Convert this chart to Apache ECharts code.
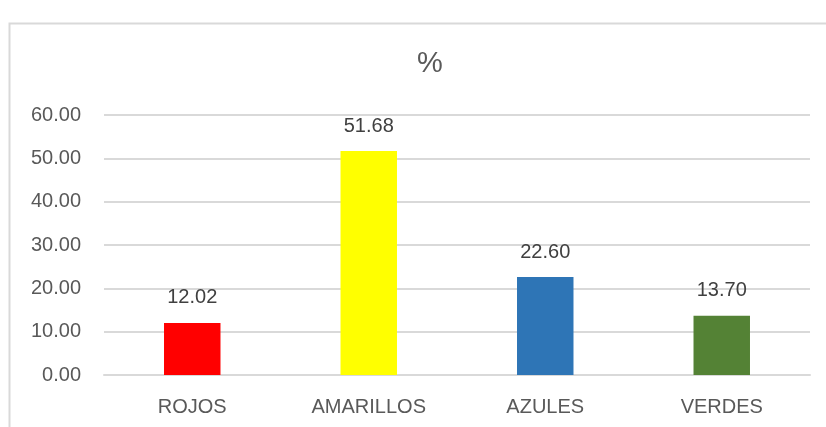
<!DOCTYPE html>
<html>
<head>
    <meta charset="utf-8" />
    <title>%</title>
    <script src="https://cdn.jsdelivr.net/npm/echarts@6/dist/echarts.min.js"></script>
</head>
<body style="margin:0">
    <div id="main" style="width:826px;height:427px;"></div>
    <script type="text/javascript">
        var categories = ['ROJOS', 'AMARILLOS', 'AZULES', 'VERDES'];
        var values = [12.02, 51.68, 22.60, 13.70];
        var barColors = ['#ff0000', '#ffff00', '#2e75b6', '#548235'];
        var yTicks = { min: 0, max: 60, step: 10 };

        var myChart = echarts.init(document.getElementById('main'));
        var font = 'Liberation Sans';

        var option = {
            backgroundColor: '#ffffff',
            animation: false,
            graphic: [{
                type: 'rect',
                shape: { x: 9.5, y: 23.5, width: 830, height: 420 },
                style: { fill: 'none', stroke: '#d9d9d9', lineWidth: 2 },
                silent: true
            }],
            title: {
                text: '%',
                left: 412,
                top: 44,
                textStyle: { fontFamily: font, fontSize: 29, fontWeight: 'normal', color: '#595959' }
            },
            grid: { left: 104, right: 16, top: 115, bottom: 52 },
            xAxis: {
                type: 'category',
                data: categories,
                axisLine: { lineStyle: { color: '#d9d9d9', width: 2 } },
                axisTick: { show: false },
                axisLabel: { fontFamily: font, fontSize: 20, color: '#595959', margin: 22 }
            },
            yAxis: {
                type: 'value',
                min: yTicks.min,
                max: yTicks.max,
                interval: yTicks.step,
                axisLine: { show: false },
                axisTick: { show: false },
                splitLine: { lineStyle: { color: '#d9d9d9', width: 2 } },
                axisLabel: {
                    fontFamily: font, fontSize: 20, color: '#595959', margin: 23,
                    formatter: function (v) { return v.toFixed(2); }
                }
            },
            series: [{
                type: 'bar',
                barCategoryGap: '68%',
                data: values.map(function (v, i) {
                    return { value: v, itemStyle: { color: barColors[i] } };
                }),
                label: {
                    show: true,
                    position: 'top',
                    distance: 15,
                    fontFamily: font,
                    fontSize: 20,
                    color: '#404040',
                    formatter: function (p) { return p.value.toFixed(2); }
                }
            }]
        };
        myChart.setOption(option);
    </script>
</body>
</html>
